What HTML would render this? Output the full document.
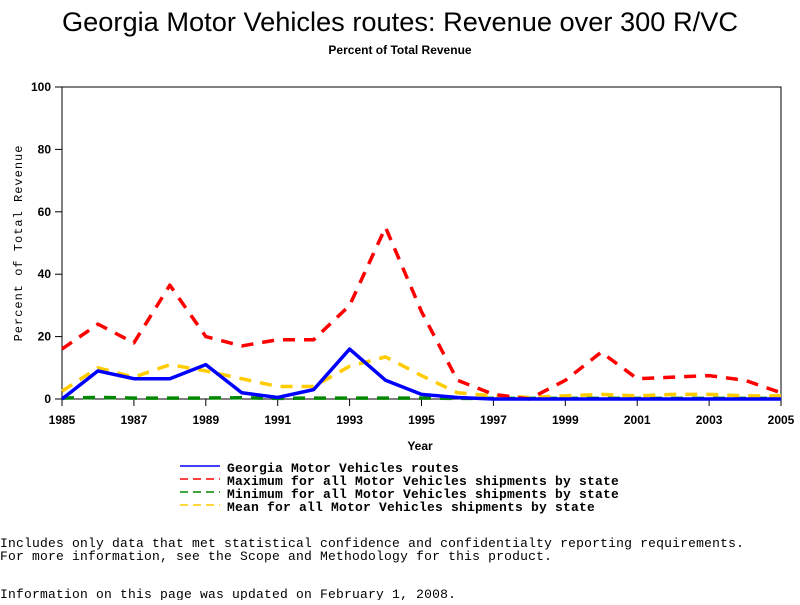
<!DOCTYPE html>
<html><head><meta charset="utf-8"><style>
body{margin:0;background:#fff;width:800px;height:600px;overflow:hidden;font-family:"Liberation Sans",sans-serif}
</style></head><body>
<svg width="800" height="600" xmlns="http://www.w3.org/2000/svg">
<text x="400" y="31" text-anchor="middle" font-size="27" font-family="Liberation Sans, sans-serif" textLength="676" lengthAdjust="spacingAndGlyphs">Georgia Motor Vehicles routes: Revenue over 300 R/VC</text>
<text x="400" y="54" text-anchor="middle" font-size="12" font-weight="bold">Percent of Total Revenue</text>
<rect x="62" y="87" width="719" height="312" fill="none" stroke="#000" stroke-width="1"/>
<g id="axes"></g>
<g id="series"></g>
<text x="420" y="450" text-anchor="middle" font-size="12" font-weight="bold">Year</text>
<text transform="translate(22,243) rotate(-90)" text-anchor="middle" font-size="12" font-family="Liberation Mono, monospace" letter-spacing="1">Percent of Total Revenue</text>
<g font-family="Liberation Mono, monospace" font-size="13" font-weight="bold" letter-spacing="0.2">
<g><line x1="180" x2="220" y1="466" y2="466" stroke="#00f" stroke-width="1.5"/><text x="227" y="472">Georgia Motor Vehicles routes</text></g>
<g><line x1="180" x2="220" y1="479" y2="479" stroke="#f00" stroke-width="1.5" stroke-dasharray="8,5"/><text x="227" y="485">Maximum for all Motor Vehicles shipments by state</text></g>
<g><line x1="180" x2="220" y1="492" y2="492" stroke="#080" stroke-width="1.5" stroke-dasharray="8,5"/><text x="227" y="498">Minimum for all Motor Vehicles shipments by state</text></g>
<g><line x1="180" x2="220" y1="505" y2="505" stroke="#fc0" stroke-width="1.5" stroke-dasharray="8,5"/><text x="227" y="511">Mean for all Motor Vehicles shipments by state</text></g>
</g>
<g font-family="Liberation Mono, monospace" font-size="13" letter-spacing="0.2">
<text x="0" y="547">Includes only data that met statistical confidence and confidentialty reporting requirements.</text>
<text x="0" y="560">For more information, see the Scope and Methodology for this product.</text>
<text x="0" y="598">Information on this page was updated on February 1, 2008.</text>
</g>
</svg>
<script>
const years=[1985,1986,1987,1988,1989,1990,1991,1992,1993,1994,1995,1996,1997,1998,1999,2000,2001,2002,2003,2004,2005];
const georgia=[0,9,6.5,6.5,11,2,0.5,3,16,6,1.5,0.5,0,0,0,0,0,0,0,0,0];
const maximum=[16,24,18,36.5,20,17,19,19,30,55,28,6,1.5,0,6,15,6.5,7,7.5,6,2];
const minimum=[0.3,0.5,0.3,0.3,0.3,0.4,0.2,0.3,0.3,0.3,0.3,0.2,0.2,0.2,0.2,0.2,0.2,0.2,0.2,0.2,0.2];
const mean=[2.5,10,7,11,9,6.5,4,4,10.5,13.5,7.5,2,1,0.5,1,1.5,1,1.5,1.5,1,1];
const xTicks=[1985,1987,1989,1991,1993,1995,1997,1999,2001,2003,2005];
const yTicks=[0,20,40,60,80,100];
const NS="http://www.w3.org/2000/svg";
const X=y=>62+(y-1985)*(719/20);
const Y=v=>399-v*3.12;
const axes=document.getElementById('axes'),series=document.getElementById('series');
function mk(tag,attrs,parent){const e=document.createElementNS(NS,tag);for(const k in attrs)e.setAttribute(k,attrs[k]);parent.appendChild(e);return e;}
xTicks.forEach(t=>{
 const l=mk('line',{x1:X(t),x2:X(t),y1:399,y2:406,stroke:'#000'},axes);
 
 
 const tx=mk('text',{x:X(t),y:424,'text-anchor':'middle','font-size':12,'font-weight':'bold'},axes);
 tx.textContent=t;
 
 
});
yTicks.forEach(t=>{
 const l=mk('line',{x1:55,x2:62,y1:Y(t),y2:Y(t),stroke:'#000'},axes);
 
 
 const tx=mk('text',{x:51,y:Y(t)+4,'text-anchor':'end','font-size':12,'font-weight':'bold'},axes);
 tx.textContent=t;
 
 
});
function line(vals,color,dash,name){
 const p=mk('polyline',{points:vals.map((v,i)=>X(years[i])+','+Y(v)).join(' '),fill:'none',stroke:color,'stroke-width':3.5,'stroke-dasharray':dash,'stroke-linejoin':'round'},series);
 
 
}
line(minimum,'#080','12,9','series-minimum');
line(mean,'#fc0','12,9','series-mean');
line(maximum,'#f00','12,9','series-maximum');
line(georgia,'#00f','none','series-georgia');
</script>
</body></html>
